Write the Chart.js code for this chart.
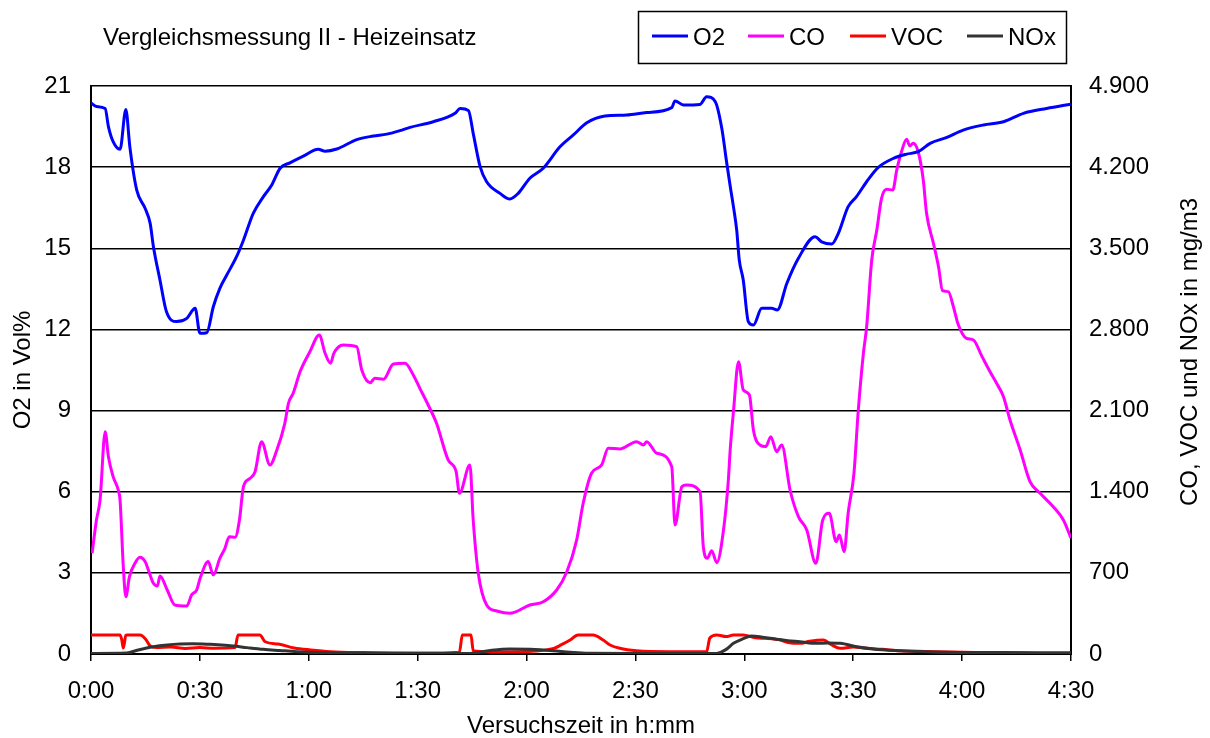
<!DOCTYPE html>
<html>
<head>
<meta charset="utf-8">
<title>Vergleichsmessung II - Heizeinsatz</title>
<script src="https://cdn.jsdelivr.net/npm/chart.js@4.4.1/dist/chart.umd.min.js"></script>
<style>
  html, body { margin: 0; padding: 0; background: #fff; }
  #wrap { width: 1210px; height: 738px; }
</style>
</head>
<body>
<div id="wrap"><canvas id="chart" width="1210" height="738"></canvas></div>
<script>
// Messdaten (Zeit in Minuten)
const o2Time = [0, 1.5, 3.9, 4.8, 6.1, 8.0, 9.6, 10.7, 12.6, 14.9, 16.3, 17.2, 19.0, 20.8, 23.6, 26.4, 28.7, 30.0, 31.9, 33.7,
  35.5, 37.4, 40.1, 42.0, 44.7, 47.5, 49.8, 52.1, 54.8, 58.5, 62.6, 64.5, 67.7, 73.2, 77.8, 81.5, 85.1, 87.9, 94.3, 100.3,
  101.7, 104.0, 105.3, 107.2, 109.0, 112.7, 115.4, 117.7, 120.9, 124.6, 129.2, 132.9, 136.6, 141.6, 147.6, 153.1, 160.0, 160.9, 163.2, 167.8,
  169.6, 172.0, 173.8, 175.1, 176.1, 177.0, 177.9, 178.6, 179.7, 181.1, 182.5, 184.8, 187.5, 189.1, 191.7, 194.9, 199.5, 201.3, 204.1, 205.9,
  208.6, 210.9, 213.7, 216.9, 221.0, 224.7, 227.9, 231.2, 235.8, 240.3, 245.9, 251.4, 256.9, 263.3, 270];
const o2 = [20.37, 20.24, 20.17, 19.5, 18.94, 18.66, 20.13, 18.75, 17.15, 16.48, 15.92, 15.06, 13.83, 12.65, 12.29, 12.41, 12.78, 11.86, 11.88, 12.84,
  13.52, 14.01, 14.69, 15.30, 16.29, 16.91, 17.34, 17.96, 18.16, 18.41, 18.66, 18.59, 18.67, 19.02, 19.15, 19.22, 19.35, 19.47, 19.68, 19.99,
  20.17, 20.09, 19.25, 18.02, 17.46, 17.03, 16.82, 17.03, 17.59, 17.96, 18.75, 19.19, 19.64, 19.89, 19.93, 20.02, 20.20, 20.45, 20.30, 20.32,
  20.60, 20.42, 19.43, 18.2, 17.3, 16.54, 15.67, 14.57, 13.83, 12.29, 12.16, 12.78, 12.78, 12.72, 13.70, 14.63, 15.43, 15.24, 15.16, 15.55,
  16.54, 16.91, 17.46, 17.99, 18.32, 18.48, 18.57, 18.88, 19.10, 19.37, 19.56, 19.68, 19.99, 20.17, 20.33];

const coTime = [0.3, 1.5, 2.5, 3.9, 4.8, 6.1, 7.5, 8.0, 8.9, 9.6, 10.6, 12.1, 13.5, 14.9, 15.8, 17.2, 18.3, 19.0, 21.0, 23.1,
  26.4, 27.7, 29.1, 30.2, 32.3, 33.7, 35.5, 36.9, 38.1, 39.7, 40.9, 42.0, 43.8, 45.2, 47.0, 49.3, 51.2, 53.4, 54.4, 55.7,
  57.6, 60.3, 62.9, 64.5, 66.0, 66.9, 69.5, 73.2, 74.6, 76.9, 78.2, 80.6, 83.3, 86.5, 88.8, 90.6, 92.9, 95.2, 98.4, 100.6,
  101.5, 104.4, 105.3, 106.7, 109.0, 111.8, 115.4, 120.9, 124.6, 128.3, 131.1, 133.8, 135.6, 137.9, 140.7, 142.5, 145.7, 150.3, 152.2, 153.1,
  155.9, 160.0, 160.9, 162.8, 164.1, 167.8, 168.7, 169.8, 171.0, 172.4, 174.2, 175.6, 176.1, 177.0, 178.4, 179.7, 181.4, 182.5, 184.3, 185.9,
  187.3, 188.9, 190.3, 192.6, 194.9, 197.2, 199.7, 201.6, 203.4, 205.3, 206.2, 207.5, 208.6, 210.2, 211.4, 212.8, 213.7, 215.1, 216.5, 217.8,
  219.2, 220.9, 222.0, 223.3, 224.7, 225.6, 226.5, 227.9, 229.3, 230.2, 232.1, 233.5, 234.6, 236.2, 237.6, 238.9, 241.2, 243.1, 245.4, 247.7,
  249.5, 251.4, 253.2, 256.0, 258.7, 261.5, 265.1, 267.9, 270];
const co = [869, 1156, 1329, 1918, 1702, 1530, 1415, 1329, 753, 494, 667, 782, 834, 797, 725, 610, 587, 673, 552, 423,
  414, 509, 552, 667, 797, 682, 825, 912, 1012, 1007, 1156, 1444, 1515, 1573, 1832, 1631, 1760, 1990, 2163, 2249,
  2435, 2608, 2752, 2594, 2508, 2594, 2666, 2651, 2450, 2341, 2378, 2370, 2502, 2508, 2407, 2292, 2148, 1990, 1674, 1573,
  1386, 1631, 1156, 696, 423, 371, 351, 423, 451, 552, 710, 983, 1300, 1559, 1631, 1775, 1769, 1832, 1803, 1832,
  1732, 1616, 1113, 1444, 1458, 1400, 926, 826, 891, 788, 1055, 1501, 1760, 2090, 2522, 2278, 2234, 1932, 1803, 1789,
  1875, 1745, 1803, 1415, 1185, 1070, 782, 1156, 1214, 969, 1027, 883, 1214, 1559, 2105, 2594, 2824, 3399, 3658, 3931,
  4009, 4003, 4176, 4333, 4440, 4383, 4406, 4333, 4089, 3802, 3543, 3341, 3134, 3126, 2996, 2845, 2723, 2709, 2572, 2435,
  2335, 2220, 2019, 1760, 1487, 1386, 1271, 1156, 1000];

const vocTime = [0, 8.0, 8.5, 8.9, 9.6, 10.0, 13.5, 15.0, 16.3, 18, 22, 26, 30, 34, 39.7, 40.5, 46.5, 48.0, 51.6, 56.0,
  60.5, 66, 75, 85, 95, 101.5, 102.3, 104.7, 105.3, 110, 120, 127.5, 129.5, 132.0, 134.2, 138.3, 141.1, 143.0, 145.7, 150.3,
  159.5, 169.6, 170.5, 172.4, 175, 177, 179.7, 183, 186, 190, 192, 195.3, 198, 201.8, 204, 206.4, 210, 213.7, 218, 222.9,
  230, 240, 250, 260, 270];
const voc = [164, 164, 120, 52, 160, 164, 164, 130, 70, 55, 60, 48, 55, 50, 55, 164, 164, 106, 86, 52,
  35, 20, 12, 8, 8, 15, 164, 164, 28, 18, 22, 49, 78, 121, 164, 164, 121, 78, 49, 28,
  20, 20, 138, 164, 150, 164, 164, 140, 135, 120, 100, 92, 110, 121, 80, 49, 60, 49, 40, 28,
  22, 15, 8, 5, 3];

const noxTime = [0, 9.8, 13, 17.2, 21, 24.5, 28, 31.9, 35, 39.2, 43, 47.5, 52, 56.7, 62, 70, 90, 104.4, 110, 115.4,
  121, 127.3, 132, 137, 150, 172.4, 175, 177, 179.5, 182, 185, 188.9, 192, 195.3, 199.9, 203, 206.4, 211, 215.5, 222.9,
  232, 250.4, 270];
const nox = [5, 8, 35, 63, 78, 86, 88, 84, 80, 69, 55, 40, 30, 20, 12, 8, 5, 5, 30, 43,
  40, 28, 15, 6, 5, 5, 40, 92, 130, 155, 145, 127, 115, 106, 92, 95, 92, 63, 43, 28,
  17, 12, 10];

const xTicksStep = 30;   // Minuten
const o2Max = 21, o2Step = 3;
const mgMax = 4900, mgStep = 700;

function toPoints(times, values) {
  return times.map((t, i) => ({ x: t, y: values[i] }));
}

function fmtTime(v) {
  const h = Math.floor(v / 60);
  const m = Math.round(v % 60);
  return h + ':' + String(m).padStart(2, '0');
}

function fmtThousands(v) {
  return String(v).replace(/\B(?=(\d{3})+(?!\d))/g, '.');
}

const FONT = '24px "Liberation Sans", Arial, sans-serif';
Chart.defaults.font.family = '"Liberation Sans", Arial, sans-serif';
Chart.defaults.color = '#000';

// Titel, Legende mit Rahmen und rechte Achsenbeschriftung (von unten nach oben gelesen)
const frame = {
  id: 'frame',
  beforeDraw(chart) {
    const ctx = chart.ctx;
    ctx.save();
    ctx.fillStyle = '#fff';
    ctx.fillRect(0, 0, chart.width, chart.height);
    ctx.restore();
  },
  afterDraw(chart) {
    const ctx = chart.ctx;
    ctx.save();
    ctx.font = FONT;
    ctx.fillStyle = '#000';
    ctx.textBaseline = 'alphabetic';
    ctx.fillText('Vergleichsmessung II - Heizeinsatz', 103, 45);

    // Legende
    ctx.strokeStyle = '#000';
    ctx.lineWidth = 1.5;
    ctx.strokeRect(638.5, 11.5, 428, 52);
    const starts = [652, 748, 850, 967];
    chart.data.datasets.forEach((ds, i) => {
      const x = starts[i];
      ctx.strokeStyle = ds.borderColor;
      ctx.lineWidth = 3;
      ctx.beginPath();
      ctx.moveTo(x, 36);
      ctx.lineTo(x + 36, 36);
      ctx.stroke();
      ctx.fillStyle = '#000';
      ctx.fillText(ds.label, x + 41, 45);
    });

    // rechte Achse
    ctx.translate(1190, 352);
    ctx.rotate(-Math.PI / 2);
    ctx.textAlign = 'center';
    ctx.textBaseline = 'middle';
    ctx.fillText('CO, VOC und NOx in mg/m3', 0, 0);
    ctx.restore();
  }
};

const lineOpts = {
  borderWidth: 3,
  pointRadius: 0,
  fill: false,
  cubicInterpolationMode: 'monotone'
};

new Chart(document.getElementById('chart'), {
  type: 'line',
  data: {
    datasets: [
      { ...lineOpts, label: 'O2', data: toPoints(o2Time, o2), borderColor: '#0000ff', yAxisID: 'y', order: 1 },
      { ...lineOpts, label: 'CO', data: toPoints(coTime, co), borderColor: '#ff00ff', yAxisID: 'y2', order: 2 },
      { ...lineOpts, label: 'VOC', data: toPoints(vocTime, voc), borderColor: '#ff0000', yAxisID: 'y2', order: 4 },
      { ...lineOpts, label: 'NOx', data: toPoints(noxTime, nox), borderColor: '#333333', yAxisID: 'y2', order: 3 }
    ]
  },
  options: {
    responsive: false,
    devicePixelRatio: 1,
    animation: false,
    layout: { padding: { top: 86, left: 0, right: 0, bottom: 0 } },
    plugins: {
      legend: { display: false },
      tooltip: { enabled: false }
    },
    scales: {
      x: {
        type: 'linear',
        min: 0,
        max: 270,
        afterFit: s => { s.height = 84; },
        ticks: { stepSize: xTicksStep, font: { size: 24 }, padding: 16, maxRotation: 0, autoSkip: false, callback: fmtTime },
        grid: { drawOnChartArea: false, drawTicks: true, tickLength: 7, color: '#000', lineWidth: 1.5 },
        border: { color: '#000', width: 2 },
        title: { display: true, text: 'Versuchszeit in h:mm', font: { size: 24, lineHeight: 1 }, padding: { top: 0, bottom: 0 } }
      },
      y: {
        position: 'left',
        min: 0,
        max: o2Max,
        afterFit: s => { s.width = 91; },
        ticks: { stepSize: o2Step, font: { size: 24 }, padding: 20 },
        grid: { color: '#000', lineWidth: 1.5, drawTicks: false },
        border: { color: '#000', width: 2 },
        title: { display: true, text: 'O2 in Vol%', font: { size: 24 }, padding: { top: 9, bottom: 0 } }
      },
      y2: {
        position: 'right',
        min: 0,
        max: mgMax,
        afterFit: s => { s.width = 139; },
        ticks: { stepSize: mgStep, font: { size: 24 }, padding: 18, callback: fmtThousands },
        grid: { drawOnChartArea: false, drawTicks: false },
        border: { color: '#000', width: 2 },
        title: { display: false }
      }
    }
  },
  plugins: [frame]
});
</script>
</body>
</html>
